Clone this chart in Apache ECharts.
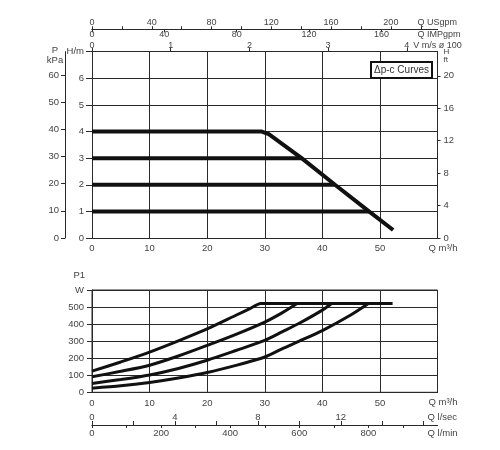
<!DOCTYPE html>
<html><head><meta charset="utf-8">
<script src="https://cdn.jsdelivr.net/npm/echarts@6/dist/echarts.min.js"></script>
<style>html,body{margin:0;padding:0;background:#fff}#c{width:500px;height:450px}</style>
</head><body><div id="c"></div>
<script>
// Δp-c head curves: [Q m³/h, H m]
const head4m = [[0,4],[29.5,4],[30.7,3.9],[36.4,3],[42.2,2],[48.1,1],[52.3,0.3]];
const head3m = [[0,3],[36.4,3]];
const head2m = [[0,2],[42.2,2]];
const head1m = [[0,1],[48.1,1]];
// Power input P1: [Q m³/h, W]
const power4m = [[0,124],[5,178],[10,236],[15,302],[20,372],[25,452],[27.5,492],[29.3,521],[52.2,521]];
const power3m = [[0,91],[5,123],[10,159],[15,213],[20,275],[25,340],[30,412],[33,466],[35.6,521]];
const power2m = [[0,52],[5,75],[10,102],[15,140],[20,188],[25,245],[30,304],[33,354],[36,405],[40,482],[41.6,521]];
const power1m = [[0,24],[5,38],[10,58],[15,84],[20,116],[25,158],[30,207],[33,255],[36,300],[40,362],[45,455],[48,521]];
// tick labels
const velTicks = [0,1,2,3,4];
const usgpmTicks = [0,20,40,60,80,100,120,140,160,180,200,220];
const usgpmLabels = [0,40,80,120,160,200];
const impTicks = [0,40,80,120,160];
const kpaTicks = [0,10,20,30,40,50,60];
const ftTicks = [0,4,8,12,16,20];
const lsecTicks = [0,2,4,6,8,10,12,14,16];
const lsecLabels = [0,4,8,12];
const lminTicks = [0,100,200,300,400,500,600,700,800,900];
const lminLabels = [0,200,400,600,800];
// axis ranges
const qMax = 60, hMax = 7, wMax = 600;
const kpaMax = 68.67, ftMax = 22.97, velMax = 4.39, usgpmMax = 231.2, impMax = 191, lsecMax = 16.667, lminMax = 1000;

const F = 'Liberation Sans';
const lbl = {color:'#444', fontSize:9.5, fontFamily:F};
const lblS = {color:'#444', fontSize:9, fontFamily:F};
const ln = {color:'#2a2a2a', width:1};
const base = {type:'value', axisLine:{show:true, onZero:false, lineStyle:ln}, splitLine:{show:false}, axisTick:{show:false}};

const chart = echarts.init(document.getElementById('c'), null, {renderer:'canvas'});
const curveTop = (d) => ({type:'line', xAxisIndex:0, yAxisIndex:0, data:d, showSymbol:false, lineStyle:{color:'#111', width:4}, itemStyle:{color:'#111'}, z:5});
const curveBot = (d) => ({type:'line', xAxisIndex:4, yAxisIndex:3, data:d, showSymbol:false, smooth:0.25, lineStyle:{color:'#111', width:3}, itemStyle:{color:'#111'}, z:5});

chart.setOption({
  animation:false,
  backgroundColor:'#fff',
  title:{text:'Δp-c Curves', left:371, top:62, padding:[3,3,3,3], borderColor:'#111', borderWidth:2, backgroundColor:'#fff',
    textStyle:{fontSize:10, fontWeight:'normal', color:'#333', fontFamily:F}},
  grid:[
    {left:92, top:51.7, width:345.5, height:186.3},
    {left:92, top:290, width:345.5, height:102.3, show:true, borderColor:'#2a2a2a', borderWidth:1}
  ],
  xAxis:[
    Object.assign({}, base, {gridIndex:0, position:'bottom', min:0, max:qMax, interval:10,
      splitLine:{show:true, lineStyle:ln},
      axisLabel:Object.assign({}, lbl, {margin:5, formatter:v => v >= qMax ? '' : v}),
      name:'Q m³/h', nameLocation:'end', nameGap:-9,
      nameTextStyle:Object.assign({}, lbl, {verticalAlign:'top', align:'left', padding:[5,0,0,0]})}),
    Object.assign({}, base, {gridIndex:0, position:'top', min:0, max:velMax,
      axisTick:{show:true, length:4, lineStyle:ln, customValues:velTicks},
      axisLabel:Object.assign({}, lblS, {margin:2, customValues:velTicks}),
      name:'V m/s ø 100', nameLocation:'end', nameGap:-25,
      nameTextStyle:Object.assign({}, lblS, {verticalAlign:'bottom', align:'left', padding:[0,0,2,0]})}),
    Object.assign({}, base, {gridIndex:0, position:'top', offset:22.4, min:0, max:impMax,
      axisTick:{show:true, inside:true, length:3, lineStyle:ln, customValues:impTicks},
      axisLabel:Object.assign({}, lblS, {inside:true, margin:1, customValues:impTicks}),
      name:'Q IMPgpm', nameLocation:'end', nameGap:-20,
      nameTextStyle:Object.assign({}, lblS, {verticalAlign:'top', align:'left', padding:[1,0,0,0]})}),
    Object.assign({}, base, {gridIndex:0, position:'top', offset:22.4, min:0, max:usgpmMax,
      axisTick:{show:true, length:3, lineStyle:ln, customValues:usgpmTicks},
      axisLabel:Object.assign({}, lblS, {margin:2, customValues:usgpmLabels}),
      name:'Q USgpm', nameLocation:'end', nameGap:-20,
      nameTextStyle:Object.assign({}, lblS, {verticalAlign:'bottom', align:'left', padding:[0,0,2,0]})}),
    Object.assign({}, base, {gridIndex:1, position:'bottom', min:0, max:qMax, interval:10,
      splitLine:{show:true, lineStyle:ln},
      axisLabel:Object.assign({}, lbl, {margin:6, formatter:v => v >= qMax ? '' : v}),
      name:'Q m³/h', nameLocation:'end', nameGap:-9,
      nameTextStyle:Object.assign({}, lbl, {verticalAlign:'top', align:'left', padding:[5,0,0,0]})}),
    Object.assign({}, base, {gridIndex:1, position:'bottom', offset:32.7, min:0, max:lsecMax,
      axisTick:{show:true, inside:true, length:4, lineStyle:ln, customValues:lsecTicks},
      axisLabel:Object.assign({}, lbl, {inside:true, margin:3, customValues:lsecLabels}),
      name:'Q l/sec', nameLocation:'end', nameGap:-10,
      nameTextStyle:Object.assign({}, lbl, {verticalAlign:'bottom', align:'left', padding:[0,0,3,0]})}),
    Object.assign({}, base, {gridIndex:1, position:'bottom', offset:32.7, min:0, max:lminMax,
      axisTick:{show:true, length:3, lineStyle:ln, customValues:lminTicks},
      axisLabel:Object.assign({}, lbl, {margin:3, customValues:lminLabels}),
      name:'Q l/min', nameLocation:'end', nameGap:-10,
      nameTextStyle:Object.assign({}, lbl, {verticalAlign:'top', align:'left', padding:[3,0,0,0]})})
  ],
  yAxis:[
    Object.assign({}, base, {gridIndex:0, position:'left', min:0, max:hMax, interval:1,
      splitLine:{show:true, lineStyle:ln},
      axisTick:{show:true, length:6, lineStyle:ln},
      axisLabel:Object.assign({}, lbl, {margin:8, formatter:v => v >= hMax ? 'H/m' : v})}),
    Object.assign({}, base, {gridIndex:0, position:'left', offset:27, min:0, max:kpaMax,
      axisTick:{show:true, length:4, lineStyle:ln, customValues:kpaTicks},
      axisLabel:Object.assign({}, lbl, {margin:6, customValues:kpaTicks}),
      name:'P\nkPa', nameLocation:'end', nameGap:-14,
      nameTextStyle:Object.assign({}, lbl, {align:'center', verticalAlign:'bottom', lineHeight:10, padding:[0,20,0,0]})}),
    Object.assign({}, base, {gridIndex:0, position:'right', min:0, max:ftMax,
      axisTick:{show:true, length:3, lineStyle:ln, customValues:ftTicks},
      axisLabel:Object.assign({}, lbl, {margin:6, customValues:ftTicks}),
      name:'H\nft', nameLocation:'end', nameGap:4,
      nameTextStyle:Object.assign({}, lbl, {fontSize:8, lineHeight:8, align:'left', verticalAlign:'top', padding:[0,0,0,6]})}),
    Object.assign({}, base, {gridIndex:1, position:'left', min:0, max:wMax, interval:100,
      splitLine:{show:true, lineStyle:ln},
      axisTick:{show:true, length:5, lineStyle:ln},
      axisLabel:Object.assign({}, lbl, {margin:8, formatter:v => v >= wMax ? 'W' : v}),
      name:'P1', nameLocation:'end', nameGap:10,
      nameTextStyle:Object.assign({}, lbl, {align:'right', padding:[0,7,0,0]})})
  ],
  series:[
    curveTop(head4m), curveTop(head3m), curveTop(head2m), curveTop(head1m),
    curveBot(power4m), curveBot(power3m), curveBot(power2m), curveBot(power1m)
  ]
});
</script></body></html>
